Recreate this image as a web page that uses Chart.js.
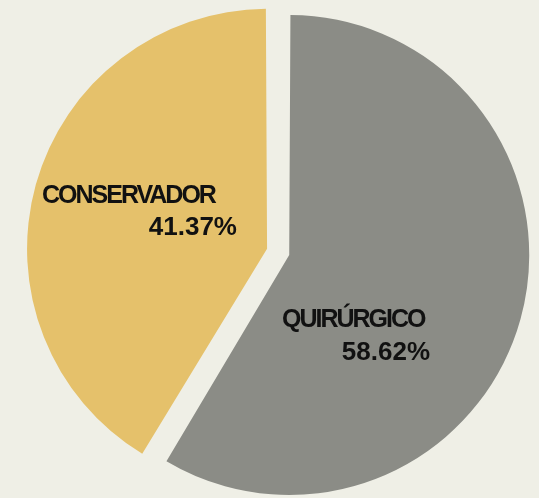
<!DOCTYPE html>
<html>
<head>
<meta charset="utf-8">
<script src="https://cdn.jsdelivr.net/npm/chart.js@4"></script>
<style>
    html, body { margin: 0; padding: 0; background: #efefe6; }
    #wrap { width: 539px; height: 498px; }
</style>
</head>
<body>
<div id="wrap"><canvas id="pie"></canvas></div>
<script>
// data
const categories = ['QUIRÚRGICO', 'CONSERVADOR'];
const shares = [58.62, 41.37];
const sliceColors = ['#8b8c86', '#e5c16b'];

// label placement, px relative to each slice's mid point (half radius)
const labelShift = [
    { name: [-112, 43], pct: [36, 76] },
    { name: [-128, -19], pct: [67, 13] }
];

const sliceLabels = {
    id: 'sliceLabels',
    afterDatasetsDraw(chart) {
        const ctx = chart.ctx;
        const arcs = chart.getDatasetMeta(0).data;
        ctx.save();
        ctx.fillStyle = '#111';
        ctx.textBaseline = 'alphabetic';
        arcs.forEach((arc, i) => {
            const mid = (arc.startAngle + arc.endAngle) / 2;
            const cx = arc.x + Math.cos(mid) * arc.outerRadius / 2;
            const cy = arc.y + Math.sin(mid) * arc.outerRadius / 2;
            const s = labelShift[i];
            ctx.font = 'bold 25px "Liberation Sans", Arial, sans-serif';
            ctx.letterSpacing = '-2px';
            ctx.textAlign = 'left';
            ctx.fillText(categories[i], cx + s.name[0], cy + s.name[1]);
            ctx.font = 'bold 26px "Liberation Sans", Arial, sans-serif';
            ctx.letterSpacing = '0px';
            ctx.textAlign = 'right';
            ctx.fillText(shares[i].toFixed(2) + '%', cx + s.pct[0], cy + s.pct[1]);
        });
        ctx.restore();
    }
};

new Chart(document.getElementById('pie'), {
    type: 'pie',
    data: {
        labels: categories,
        // Chart.js moves an arc by offset/4 and also grows it by offset/4 * (1 - sin(sweep)),
        // so the two offsets differ to keep both slices the same size
        datasets: [{ data: shares, backgroundColor: sliceColors, borderWidth: 0, offset: [30, 62], hoverOffset: 0 }]
    },
    options: {
        responsive: true,
        maintainAspectRatio: false,
        animation: false,
        radius: 232.5,
        layout: { padding: { left: 25, top: 8 } },
        plugins: { legend: { display: false }, tooltip: { enabled: false } }
    },
    plugins: [sliceLabels]
});
</script>
</body>
</html>
